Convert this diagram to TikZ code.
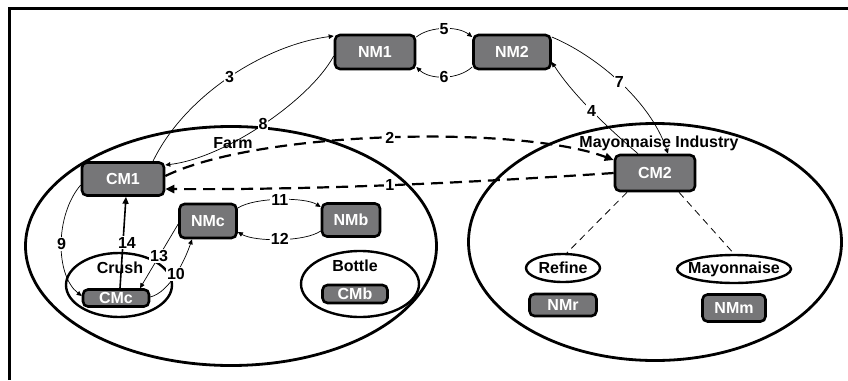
\documentclass[tikz,border=0pt]{standalone}
\usepackage{fontspec}
\setmainfont{Liberation Sans}
\usetikzlibrary{arrows.meta,shapes.geometric}
\definecolor{boxgray}{RGB}{118,118,120}
\begin{document}
\begin{tikzpicture}[x=1pt,y=-1pt,
  bf/.style={font=\bfseries\fontsize{16}{18}\selectfont},
  mbox/.style={bf, draw=black, line width=2.6pt, fill=boxgray, rounded corners=5pt, text=white, inner sep=0pt},
  region/.style={draw=black, line width=2.8pt, ellipse, inner sep=0pt},
  subreg/.style={draw=black, line width=2.4pt, ellipse, inner sep=0pt},
  txt/.style={bf, inner sep=0pt},
  lbl/.style={bf, fill=white, inner sep=1pt},
  link/.style={line width=0.7pt, -{Triangle[length=5pt,width=4.5pt]}},
  dlink/.style={line width=2.2pt, dash pattern=on 12pt off 7pt, -{Triangle[length=9pt,width=8pt]}},
  tree/.style={line width=0.8pt, dash pattern=on 7pt off 5pt}]
\useasboundingbox (0,0) rectangle (848,380);
% frame
\draw[line width=3pt] (9.5,380) -- (9.5,8.5) -- (848,8.5);
% regions
\node[region, minimum width=411pt, minimum height=239pt] (farm) at (231,246) {};
\node[region, minimum width=373pt, minimum height=237pt] (mayind) at (655,242) {};
\node[subreg, minimum width=106pt, minimum height=64pt] (crush) at (119,285) {};
\node[subreg, minimum width=118pt, minimum height=66pt] (bottle) at (360,284) {};
\node[subreg, minimum width=74pt, minimum height=28pt] (refine) at (563,268) {};
\node[subreg, minimum width=114pt, minimum height=28pt] (mayo) at (734,269) {};
% region texts
\node[txt] (farmt) at (233,143) {Farm};
\node[txt] (mayindt) at (659,143) {Mayonnaise Industry};
\node[txt] (crusht) at (120,268) {Crush};
\node[txt] (bottlet) at (355,266) {Bottle};
\node[txt] (refinet) at (563,268) {Refine};
\node[txt] (mayot) at (734,269) {Mayonnaise};
% boxes
\node[mbox, minimum width=82pt, minimum height=33pt] (cm1) at (123,179) {CM1};
\node[mbox, minimum width=80pt, minimum height=34pt] (nm1) at (375,52) {NM1};
\node[mbox, minimum width=77pt, minimum height=34pt] (nm2) at (512,52) {NM2};
\node[mbox, minimum width=80pt, minimum height=36pt] (cm2) at (655,173) {CM2};
\node[mbox, minimum width=57pt, minimum height=34pt] (nmc) at (208,221) {NMc};
\node[mbox, minimum width=58pt, minimum height=33pt] (nmb) at (351,220) {NMb};
\node[mbox, minimum width=66pt, minimum height=17pt] (cmc) at (116,298) {CMc};
\node[mbox, minimum width=65pt, minimum height=18pt] (cmb) at (355,294) {CMb};
\node[mbox, minimum width=67pt, minimum height=22pt] (nmr) at (563,305) {NMr};
\node[mbox, minimum width=63pt, minimum height=27pt] (nmm) at (734,308) {NMm};
% tree lines
\draw[tree] ([xshift=-28pt]cm2.south) -- ([xshift=4pt]refine.north);
\draw[tree] ([xshift=24pt]cm2.south) -- (mayo.north);
% connectors
\draw[link] ([xshift=30pt]cm1.north) .. controls (185,95) and (265,45) .. ([yshift=16pt]nm1.west) node[lbl,pos=0.5] {3};
\draw[link] ([yshift=-4pt]nm1.west) .. controls (310,100) and (225,158) .. ([yshift=14pt]cm1.east) node[lbl,pos=0.5] {8};
\draw[link] ([yshift=15pt]nm1.east) .. controls (430,26) and (458,26) .. ([yshift=15pt]nm2.west) node[lbl,pos=0.5] {5};
\draw[link] ([yshift=-15pt]nm2.west) .. controls (458,80) and (430,80) .. ([yshift=-15pt]nm1.east) node[lbl,pos=0.5] {6};
\draw[link] ([yshift=15pt]nm2.east) .. controls (595,55) and (650,100) .. ([xshift=13pt]cm2.north) node[lbl,pos=0.5] {7};
\draw[link] ([xshift=-17pt]cm2.north) .. controls (608,128) and (573,95) .. ([yshift=-10pt]nm2.east) node[lbl,pos=0.5] {4};
\draw[dlink] ([yshift=3pt]cm1.east) .. controls (260,130) and (520,125) .. ([yshift=13pt]cm2.west) node[lbl,pos=0.5] {2};
\draw[dlink] (cm2.west) .. controls (465,183) and (315,190) .. ([yshift=-10pt]cm1.east) node[lbl,pos=0.5] {1};
\draw[link] ([yshift=-6pt]cm1.west) .. controls (55,215) and (55,275) .. ([yshift=2pt]cmc.west) node[lbl,pos=0.5] {9};
\draw[line width=1.6pt, -{Triangle[length=7pt,width=6pt]}] ([xshift=4pt]cmc.north) -- ([xshift=3pt]cm1.south) node[lbl,pos=0.5,xshift=4pt] {14};
\draw[link] ([yshift=-3pt]nmc.west) -- ([xshift=24pt]cmc.north) node[lbl,pos=0.5] {13};
\draw[link] ([yshift=1pt]cmc.east) .. controls (170,292) and (185,260) .. ([xshift=-16pt]nmc.south) node[lbl,pos=0.5] {10};
\draw[link] ([yshift=13pt]nmc.east) .. controls (255,197) and (305,197) .. ([yshift=13pt]nmb.west) node[lbl,pos=0.5] {11};
\draw[link] ([yshift=-11pt]nmb.west) .. controls (305,242) and (255,242) .. ([yshift=-11pt]nmc.east) node[lbl,pos=0.5] {12};
\end{tikzpicture}
\end{document}
